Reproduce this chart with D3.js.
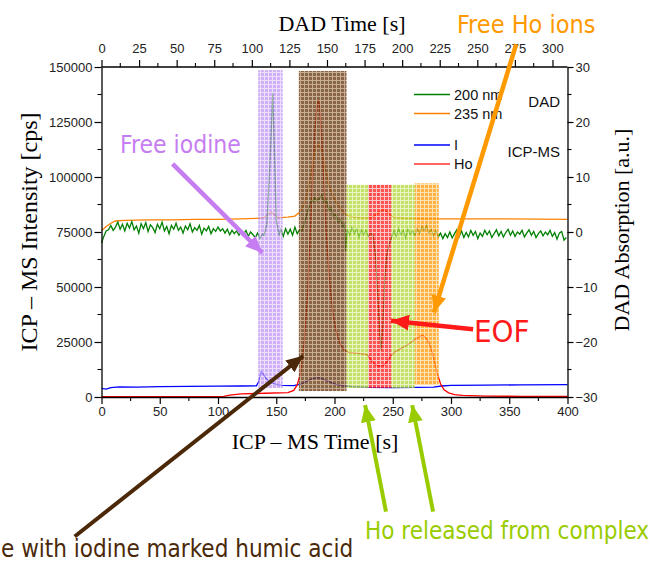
<!DOCTYPE html>
<html><head><meta charset="utf-8">
<script src="https://cdn.jsdelivr.net/npm/d3@7"></script>
<style>html,body{margin:0;padding:0;background:#fff;} svg{display:block;}</style>
</head><body>
<svg id="c" width="653" height="564"></svg>
<script>
// ---------- data ----------
const icpTimeTicks = [0,50,100,150,200,250,300,350,400];
const dadTimeTicks = [0,25,50,75,100,125,150,175,200,225,250,275,300];
const intensityTicks = [0,25000,50000,75000,100000,125000,150000];
const absorptionTicks = [-30,-20,-10,0,10,20,30];

// DAD 200 nm  [ICP-MS time s, absorption a.u.]
const dad200 = [[0,-2.0],[2,-0.8],[4,0.2],[6,0.4],[8,1.2],[10,0.3],[12,0.9],[14,1.8],[16,0.5],[18,1.4],[20,0.2],[22,1.6],[24,0.7],[26,1.9],[28,0.4],[30,1.1],[32,-0.2],[34,1.5],[36,0.6],[38,1.7],[40,0.1],[42,1.3],[44,0.8],[46,-0.1],[48,1.4],[50,0.6],[52,1.8],[54,0.2],[56,1.0],[58,-0.3],[60,1.2],[62,0.5],[64,1.6],[66,0.3],[68,0.9],[70,-0.2],[72,1.1],[74,0.4],[76,1.5],[78,0.0],[80,0.8],[82,0.3],[84,1.2],[86,-0.4],[88,0.7],[90,0.2],[92,1.0],[94,-0.3],[96,0.6],[98,0.1],[100,0.9],[102,0.2],[104,0.6],[106,-0.2],[108,0.5],[110,-0.5],[112,0.3],[114,-0.3],[116,0.2],[118,-0.6],[120,0.1],[122,-0.4],[124,0.3],[126,-0.8],[128,0.0],[130,-0.5],[132,-1.0],[134,-0.2],[136,-1.2],[138,-0.4],[139.5,-0.6],[142,1.5],[144.5,12],[147,25.2],[148.5,14],[150,2],[152.5,-0.5],[154,0.5],[156,-0.8],[158,0.6],[160,-0.4],[162,0.5],[164,-0.6],[166,0.9],[168,-0.3],[170,0.4],[172,0.2],[174,1.5],[176,3.0],[178,4.5],[180,5.8],[182,5.5],[183,6.3],[185,5.7],[187,6.0],[189,6.8],[191,5.4],[193,5.8],[195,4.0],[197,4.4],[199,2.8],[201,3.2],[203,1.8],[205,2.3],[207,1.0],[208.5,1.5],[209.5,-3.5],[211,0.5],[213,-0.6],[215,0.8],[217,-0.3],[219,0.5],[221,-1.0],[223,0.4],[225,-0.5],[227,0.3],[229,-0.8],[231,-0.2],[233,-0.5],[235,-4],[237,-11],[239,-19],[240,-21.5],[241.5,-17],[243,-9],[245,-4],[247,-2.2],[249,-1.0],[251,0.2],[253,-0.8],[255,0.6],[257,-0.5],[259,0.3],[261,-1.1],[263,0.5],[265,-0.4],[267,0.2],[269,-0.6],[271,0.6],[273,-0.3],[275,1.0],[277,0.2],[279,1.2],[281,-0.2],[283,0.5],[285,-0.7],[287,0.3],[289,-0.9],[291,-0.2],[293,-1.2],[295,-0.3],[297,-1.0],[299,0.0],[301,-1.1],[303,-0.3],[305,0.4],[307,-0.8],[309,0.2],[311,-1.0],[313,-0.1],[315,-0.9],[317,0.3],[319,-0.6],[321,0.1],[323,-1.2],[325,-0.2],[327,-0.8],[329,0.3],[331,-0.5],[333,0.2],[335,-1.0],[337,-0.3],[339,0.4],[341,-0.7],[343,0.1],[345,-0.9],[347,-0.1],[349,0.5],[351,-0.6],[353,0.2],[355,-0.8],[357,0.0],[359,-0.4],[361,0.3],[363,-0.9],[365,-0.2],[367,0.4],[369,-0.6],[371,0.1],[373,-1.0],[375,-0.3],[377,0.2],[379,-0.7],[381,0.0],[383,-0.5],[385,0.3],[387,-0.8],[389,-0.1],[391,-1.3],[393,-0.2],[395,0.1],[397,-1.5],[399,-1.0]];

// DAD 235 nm
const dad235 = [[0,0.2],[4,1.0],[8,1.6],[12,2.0],[20,2.1],[40,2.2],[60,2.2],[80,2.3],[100,2.3],[120,2.4],[135,2.5],[140,2.6],[143,3.2],[146,3.6],[149,3.0],[152,2.6],[160,2.7],[166,2.9],[170,3.6],[174,5.0],[177,7.5],[180,10.8],[183,14.8],[186,16.0],[189,14.8],[192,11.5],[195,8.6],[198,6.7],[202,5.2],[205,4.3],[208,3.5],[211,3.0],[216,2.7],[225,2.5],[232,2.6],[236,3.2],[239,3.8],[242,4.1],[245,3.7],[248,3.0],[252,2.6],[260,2.5],[280,2.4],[300,2.4],[340,2.4],[400,2.3]];

// ICP-MS I  [time s, cps]
const icpI = [[0,3900],[4,3600],[8,4300],[15,4600],[30,4500],[50,4700],[75,4800],[100,4900],[120,5000],[133,5100],[135,7000],[137,11500],[139,10500],[141,8500],[144,7000],[148,6000],[155,5300],[165,5200],[172,6000],[177,7500],[182,8500],[186,8800],[190,8200],[195,7000],[200,6000],[206,5200],[215,4700],[230,4400],[250,4300],[270,4400],[285,4500],[292,5000],[300,5300],[330,5400],[360,5500],[400,5600]];

// ICP-MS Ho
const icpHo = [[0,200],[50,200],[105,300],[110,900],[120,1400],[140,1700],[160,2000],[165,3000],[168,5500],[171,11000],[174,25000],[177,48000],[179,72000],[181,98000],[183,120000],[185,132000],[186,135000],[187,133000],[189,118000],[191,96000],[193,74000],[195,58000],[197,46000],[199,37000],[201,31000],[203,27000],[205,24000],[208,21500],[212,20300],[220,19800],[228,19300],[231,17000],[234,15000],[238,14000],[242,14300],[245,16000],[248,18500],[252,20500],[258,22300],[264,24200],[270,26500],[274,27800],[276,28000],[279,26500],[282,23500],[285,18000],[288,11000],[291,6000],[294,3300],[298,1900],[303,1100],[310,700],[330,400],[360,300],[400,250]];

// highlighted fractions [start s, end s, top cps, bottom cps]
const fractionNames = ["iodine","humic","released1","eof","released2","freeHo"];
const fractionSpans = [[134.5,155.5,148600,4100],[169.4,210.3,148200,2700],[210.3,228.9,96500,4100],[228.9,248.9,96500,4100],[248.9,268.9,96500,4100],[268.9,289.5,97100,5400]];

// ---------- layout ----------
const svg = d3.select("#c");
const x = d3.scaleLinear().domain([0,400]).range([101.5,567.5]);
const xTop = d3.scaleLinear().domain([0,310]).range([101.5,567.5]);
const yL = d3.scaleLinear().domain([0,150000]).range([397,67]);
const yR = d3.scaleLinear().domain([-30,30]).range([397,67]);

const fracStyle = {
  iodine:   {base:"#b98af2", line:"#e4d2fb", op:0.68},
  humic:    {base:"#6e4018", line:"#b89878", op:0.8},
  released1:{base:"#abd62a", line:"#e2f0b0", op:0.72},
  eof:      {base:"#ff1010", line:"#ffb0b0", op:0.72},
  released2:{base:"#abd62a", line:"#e2f0b0", op:0.72},
  freeHo:   {base:"#ff9800", line:"#ffd7a0", op:0.75}
};

const defs = svg.append("defs");
fractionNames.forEach(n => {
  const s = fracStyle[n];
  const p = defs.append("pattern").attr("id","pat-"+n).attr("width",4).attr("height",4)
    .attr("patternUnits","userSpaceOnUse");
  p.append("rect").attr("width",4).attr("height",4).attr("fill",s.base);
  p.append("path").attr("d","M0,0.5H4M0.5,0V4").attr("stroke",s.line).attr("stroke-width",1).attr("fill","none");
});

function marker(id, color, w, h){
  defs.append("marker").attr("id",id).attr("markerUnits","userSpaceOnUse")
    .attr("markerWidth",w).attr("markerHeight",h).attr("refX",w).attr("refY",h/2)
    .attr("orient","auto")
    .append("path").attr("d",`M0,0L${w},${h/2}L0,${h}Z`).attr("fill",color);
}
marker("m-purple","#c77df2",17,15);
marker("m-orange","#ff9900",17,15);
marker("m-red","#ff1a1a",18,16);
marker("m-brown","#4a2808",17,15);
marker("m-green","#99cc00",17,15);

// ---------- series ----------
const lineL = d3.line().x(d=>x(d[0])).y(d=>yL(d[1]));
const lineR = d3.line().x(d=>x(d[0])).y(d=>yR(d[1]));
const g = svg.append("g");
g.append("path").datum(icpI).attr("d",lineL).attr("fill","none").attr("stroke","#0000ff").attr("stroke-width",1.3);
g.append("path").datum(icpHo).attr("d",lineL).attr("fill","none").attr("stroke","#ff0000").attr("stroke-width",1.3);
g.append("path").datum(dad235).attr("d",lineR).attr("fill","none").attr("stroke","#ff8000").attr("stroke-width",1.3);
g.append("path").datum(dad200).attr("d",lineR).attr("fill","none").attr("stroke","#008000").attr("stroke-width",1.3);

// fractions overlay
svg.append("g").selectAll("rect").data(fractionSpans).join("rect")
  .attr("x",d=>x(d[0])).attr("width",d=>x(d[1])-x(d[0]))
  .attr("y",d=>yL(d[2])).attr("height",d=>yL(d[3])-yL(d[2]))
  .attr("fill",(d,i)=>"url(#pat-"+fractionNames[i]+")")
  .attr("opacity",(d,i)=>fracStyle[fractionNames[i]].op);

// ---------- axes ----------
const tickFont = "'Liberation Sans', Arial, sans-serif";
const fmt = d3.format("d");
function styleAxis(sel){
  sel.selectAll("path.domain").attr("stroke","#000").attr("stroke-width",1.3);
  sel.selectAll(".tick line").attr("stroke","#000").attr("stroke-width",1.2);
  sel.selectAll("text").attr("font-family",tickFont).attr("font-size",13).attr("fill","#222");
}
function minor(sel, scale, vals, orient){
  const len = 4;
  vals.forEach(v=>{
    const p = scale(v);
    let l;
    if(orient==="bottom") l = sel.append("line").attr("x1",p).attr("x2",p).attr("y1",0).attr("y2",len);
    if(orient==="top") l = sel.append("line").attr("x1",p).attr("x2",p).attr("y1",0).attr("y2",-len);
    if(orient==="left") l = sel.append("line").attr("y1",p).attr("y2",p).attr("x1",0).attr("x2",-len);
    if(orient==="right") l = sel.append("line").attr("y1",p).attr("y2",p).attr("x1",0).attr("x2",len);
    l.attr("stroke","#000").attr("stroke-width",1.1);
  });
}
const axB = svg.append("g").attr("transform","translate(0,397)")
  .call(d3.axisBottom(x).tickValues(icpTimeTicks).tickFormat(fmt).tickSize(7).tickSizeOuter(0).tickPadding(3));
styleAxis(axB); minor(axB, x, d3.range(25,400,50), "bottom");

const axT = svg.append("g").attr("transform","translate(0,67)")
  .call(d3.axisTop(xTop).tickValues(dadTimeTicks).tickFormat(fmt).tickSize(7).tickSizeOuter(0).tickPadding(7));
axT.select("path.domain").attr("d",`M101.5,0H567.5`);
styleAxis(axT); minor(axT, xTop, d3.range(12.5,310,25), "top");

const axL = svg.append("g").attr("transform","translate(101.5,0)")
  .call(d3.axisLeft(yL).tickValues(intensityTicks).tickFormat(fmt).tickSize(7).tickSizeOuter(0).tickPadding(2));
styleAxis(axL); minor(axL, yL, d3.range(12500,150000,25000), "left");

const axR = svg.append("g").attr("transform","translate(567.5,0)")
  .call(d3.axisRight(yR).tickValues(absorptionTicks).tickFormat(fmt).tickSize(6).tickSizeOuter(0).tickPadding(2));
styleAxis(axR); minor(axR, yR, d3.range(-25,30,10), "right");

// axis titles
const serif = "'Liberation Serif', 'Times New Roman', serif";
svg.append("text").attr("x",342).attr("y",31).attr("text-anchor","middle")
  .attr("font-family",serif).attr("font-size",22).text("DAD Time [s]");
svg.append("text").attr("x",315).attr("y",449).attr("text-anchor","middle")
  .attr("font-family",serif).attr("font-size",22).text("ICP – MS Time [s]");
svg.append("text").attr("transform","translate(37,232) rotate(-90)").attr("text-anchor","middle")
  .attr("font-family",serif).attr("font-size",24).text("ICP – MS Intensity [cps]");
svg.append("text").attr("transform","translate(629,230) rotate(-90)").attr("text-anchor","middle")
  .attr("font-family",serif).attr("font-size",22).text("DAD Absorption [a.u.]");

// legend
const legend = [["200 nm","#008000",94.5],["235 nm","#ff8000",113.5],["I","#0000ff",145],["Ho","#ff3333",164]];
legend.forEach(l=>{
  svg.append("line").attr("x1",414).attr("x2",450).attr("y1",l[2]).attr("y2",l[2]).attr("stroke",l[1]).attr("stroke-width",1.3);
  svg.append("text").attr("x",454).attr("y",l[2]+5).attr("font-family",tickFont).attr("font-size",14.5).attr("fill","#111").text(l[0]);
});
svg.append("text").attr("x",560).attr("y",106.5).attr("text-anchor","end").attr("font-family",tickFont).attr("font-size",15).attr("fill","#111").text("DAD");
svg.append("text").attr("x",560).attr("y",156.5).attr("text-anchor","end").attr("font-family",tickFont).attr("font-size",15).attr("fill","#111").text("ICP-MS");

// ---------- annotations (positioned in data space) ----------
const annFont = "'DejaVu Sans Condensed', 'DejaVu Sans', sans-serif";
function arrow(t0,v0,t1,v1,color,mk,w){
  const x0=x(t0), y0=yL(v0), x1=x(t1), y1=yL(v1);
  const L=Math.hypot(x1-x0,y1-y0), k=(L-6)/L;
  svg.append("line").attr("x1",x0).attr("y1",y0).attr("x2",x0+(x1-x0)*k).attr("y2",y0+(y1-y0)*k)
    .attr("stroke",color).attr("stroke-width",w).attr("marker-end",`url(#${mk})`);
}
arrow(61,106000,141.7,63600,"#c77df2","m-purple",4.5);
arrow(356,160400,283.8,35800,"#ff9900","m-orange",4.5);
arrow(319,30800,243.4,34900,"#ff1a1a","m-red",4.5);
arrow(-23,-63400,177.2,20400,"#4a2808","m-brown",4);
arrow(244.2,-52100,225.3,-1000,"#99cc00","m-green",4);
arrow(284.6,-52100,265.7,-1000,"#99cc00","m-green",4);

function ann(txt,xx,yy,size,color,anchor){
  svg.append("text").attr("x",xx).attr("y",yy).attr("font-family",annFont).attr("font-stretch","condensed")
    .attr("font-size",size).attr("fill",color).attr("text-anchor",anchor||"start").text(txt);
}
ann("Free iodine",120,153,24.5,"#c77df2");
ann("Free Ho ions",457,33,25,"#ff9900");
ann("EOF",474,342,31,"#ff1a1a");
ann("e with iodine marked humic acid",1,557,24,"#4a2808");
ann("Ho released from complex",365,539,24,"#99cc00");
</script>
</body></html>
